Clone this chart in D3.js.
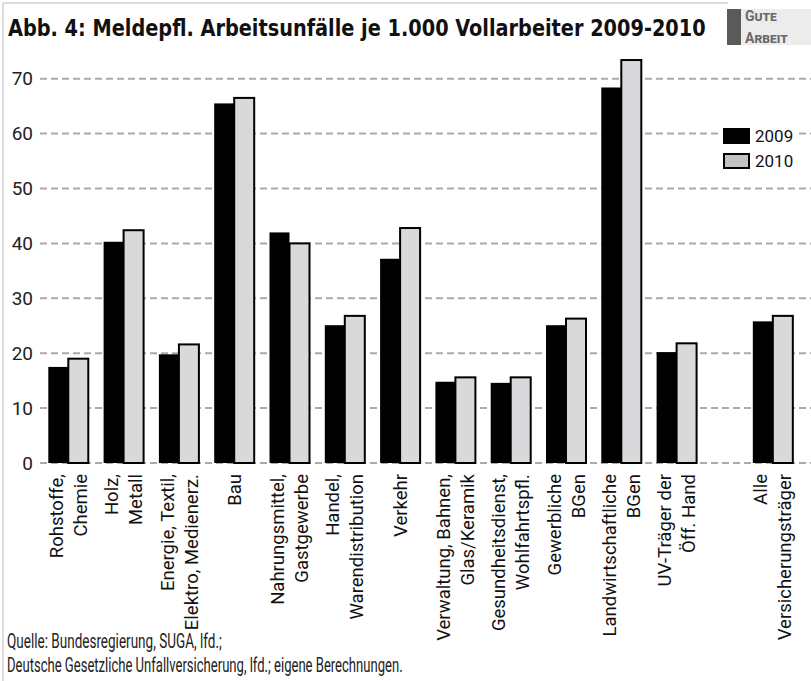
<!DOCTYPE html>
<html lang="de">
<head>
<meta charset="utf-8">
<title>Arbeitsunfälle je 1.000 Vollarbeiter</title>
<style>
  body { margin: 0; background: #fff; }
  .grid line { stroke: #aaa; stroke-width: 2; stroke-dasharray: 7,4; }
  .ylab text { font-family: Roboto, "Noto Sans", sans-serif; font-size: 19px; fill: #222; }
  .xlab text { font-family: Roboto, "Noto Sans", sans-serif; font-size: 18.5px; fill: #111; }
  .title { font-family: "Liberation Sans Narrow", "DejaVu Sans Condensed", sans-serif; font-weight: bold; font-size: 23px; fill: #111; }
  .source { font-family: Roboto, "Noto Sans", sans-serif; font-size: 20px; fill: #222; }
  .legend text { font-family: Roboto, "Noto Sans", sans-serif; font-size: 17px; fill: #111; }
  .logo text { font-family: Roboto, sans-serif; font-weight: bold; font-size: 14px; font-variant: small-caps; fill: #6a6a6a; }
</style>
</head>
<body>
<div id="chart"></div>
<script src="https://cdn.jsdelivr.net/npm/d3@7"></script>
<script>
// labels, "|" = line break
var categories = [
  "Rohstoffe,|Chemie",
  "Holz,|Metall",
  "Energie, Textil,|Elektro, Medienerz.",
  "Bau",
  "Nahrungsmittel,|Gastgewerbe",
  "Handel,|Warendistribution",
  "Verkehr",
  "Verwaltung, Bahnen,|Glas/Keramik",
  "Gesundheitsdienst,|Wohlfahrtspfl.",
  "Gewerbliche|BGen",
  "Landwirtschaftliche|BGen",
  "UV-Träger der|Öff. Hand",
  "Alle|Versicherungsträger"
];
var years = ["2009", "2010"];
var values2009 = [17.5, 40.3, 19.8, 65.5, 42.0, 25.1, 37.2, 14.8, 14.6, 25.1, 68.4, 20.2, 25.8];
var values2010 = [19.0, 42.4, 21.6, 66.5, 40.0, 26.8, 42.8, 15.6, 15.6, 26.3, 73.4, 21.8, 26.8];
var yTicks = [0, 10, 20, 30, 40, 50, 60, 70];

var width = 811, height = 681;

var svg = d3.select("#chart").append("svg")
    .attr("width", width)
    .attr("height", height);

// squeeze a text horizontally to a given width
function fitText(sel, x, y, w) {
  var natural = sel.node().getComputedTextLength();
  sel.attr("transform", "translate(" + x + "," + y + ") scale(" + (w / natural) + ",1)");
}

// frame + logo
svg.append("path")
    .attr("d", "M3,681 V3 H728")
    .attr("fill", "none")
    .attr("stroke", "#ddd")
    .attr("stroke-width", 2);
svg.append("rect").attr("x", 741).attr("y", 9).attr("width", 70).attr("height", 36).attr("fill", "#ececec");
svg.append("rect").attr("x", 727).attr("y", 9).attr("width", 14).attr("height", 36).attr("fill", "#5a5a5a");
var logo = svg.append("g").attr("class", "logo");
logo.append("text").attr("x", 745).attr("y", 21).text("Gute");
logo.append("text").attr("x", 745).attr("y", 43).text("Arbeit");

var title = svg.append("text")
    .attr("class", "title")
    .text("Abb. 4: Meldepfl. Arbeitsunfälle je 1.000 Vollarbeiter 2009-2010");
fitText(title, 8, 36, 698);

// scales
var y = d3.scaleLinear().domain([0, 70]).range([463, 78.7]);

// group index -> left edge; "Alle" sits after a gap
var idx = categories.map(function(d, i) { return i < categories.length - 1 ? i : i + 0.74; });
var x = d3.scaleLinear().domain([0, 1]).range([48.3, 103.6]);
var x1 = d3.scaleBand().domain(years).range([0, 40]);

// grid
svg.append("g").attr("class", "grid")
  .selectAll("line")
  .data(yTicks)
  .enter().append("line")
    .attr("x1", 40).attr("x2", width)
    .attr("y1", function(d) { return y(d); })
    .attr("y2", function(d) { return y(d); });

svg.append("g").attr("class", "ylab")
  .selectAll("text")
  .data(yTicks)
  .enter().append("text")
    .attr("x", 33)
    .attr("y", function(d) { return y(d); })
    .attr("dy", "0.35em")
    .attr("text-anchor", "end")
    .text(function(d) { return d; });

// bars
var rows = categories.map(function(c, i) {
  return { cat: c, i: idx[i], vals: [values2009[i], values2010[i]] };
});

var groups = svg.append("g")
  .selectAll("g")
  .data(rows)
  .enter().append("g")
    .attr("transform", function(d) { return "translate(" + x(d.i) + ",0)"; });

groups.selectAll("rect")
  .data(function(d) { return d.vals.map(function(v, k) { return { year: years[k], v: v }; }); })
  .enter().append("rect")
    .attr("x", function(d) { return x1(d.year); })
    .attr("y", function(d) { return y(d.v); })
    .attr("width", x1.bandwidth())
    .attr("height", function(d) { return y(0) - y(d.v); })
    .attr("fill", function(d) { return d.year == "2009" ? "#000" : "#d9d9db"; })
    .attr("stroke", function(d) { return d.year == "2009" ? "none" : "#000"; })
    .attr("stroke-width", 2);

// x labels, rotated
var xl = svg.append("g").attr("class", "xlab")
  .selectAll("text")
  .data(rows)
  .enter().append("text")
    .attr("text-anchor", "end")
    .attr("transform", function(d) { return "translate(" + (x(d.i) + 20) + ",474) rotate(-90)"; });

xl.each(function(d) {
  var lines = d.cat.split("|");
  var t = d3.select(this);
  lines.forEach(function(s, k) {
    var off = lines.length == 1 ? 0 : (k == 0 ? -12 : 12);
    t.append("tspan")
      .attr("x", 0)
      .attr("y", off)
      .attr("dy", "0.36em")
      .text(s);
  });
});

// legend
var lg = svg.append("g").attr("class", "legend");
lg.append("rect").attr("x", 718).attr("y", 122).attr("width", 80).attr("height", 52).attr("fill", "#fff");
lg.append("rect").attr("x", 723).attr("y", 128).attr("width", 27).attr("height", 16).attr("fill", "#000");
lg.append("rect").attr("x", 724).attr("y", 154).attr("width", 25).attr("height", 14)
    .attr("fill", "#c2c2c2").attr("stroke", "#000").attr("stroke-width", 2);
lg.selectAll("text")
  .data(years)
  .enter().append("text")
    .attr("x", 755)
    .attr("y", function(d, k) { return 142 + k * 25; })
    .text(function(d) { return d; });

// source
var s1 = svg.append("text").attr("class", "source")
    .text("Quelle: Bundesregierung, SUGA, lfd.;");
fitText(s1, 7, 648, 215);
var s2 = svg.append("text").attr("class", "source")
    .text("Deutsche Gesetzliche Unfallversicherung, lfd.; eigene Berechnungen.");
fitText(s2, 7, 672, 396);
</script>
</body>
</html>
